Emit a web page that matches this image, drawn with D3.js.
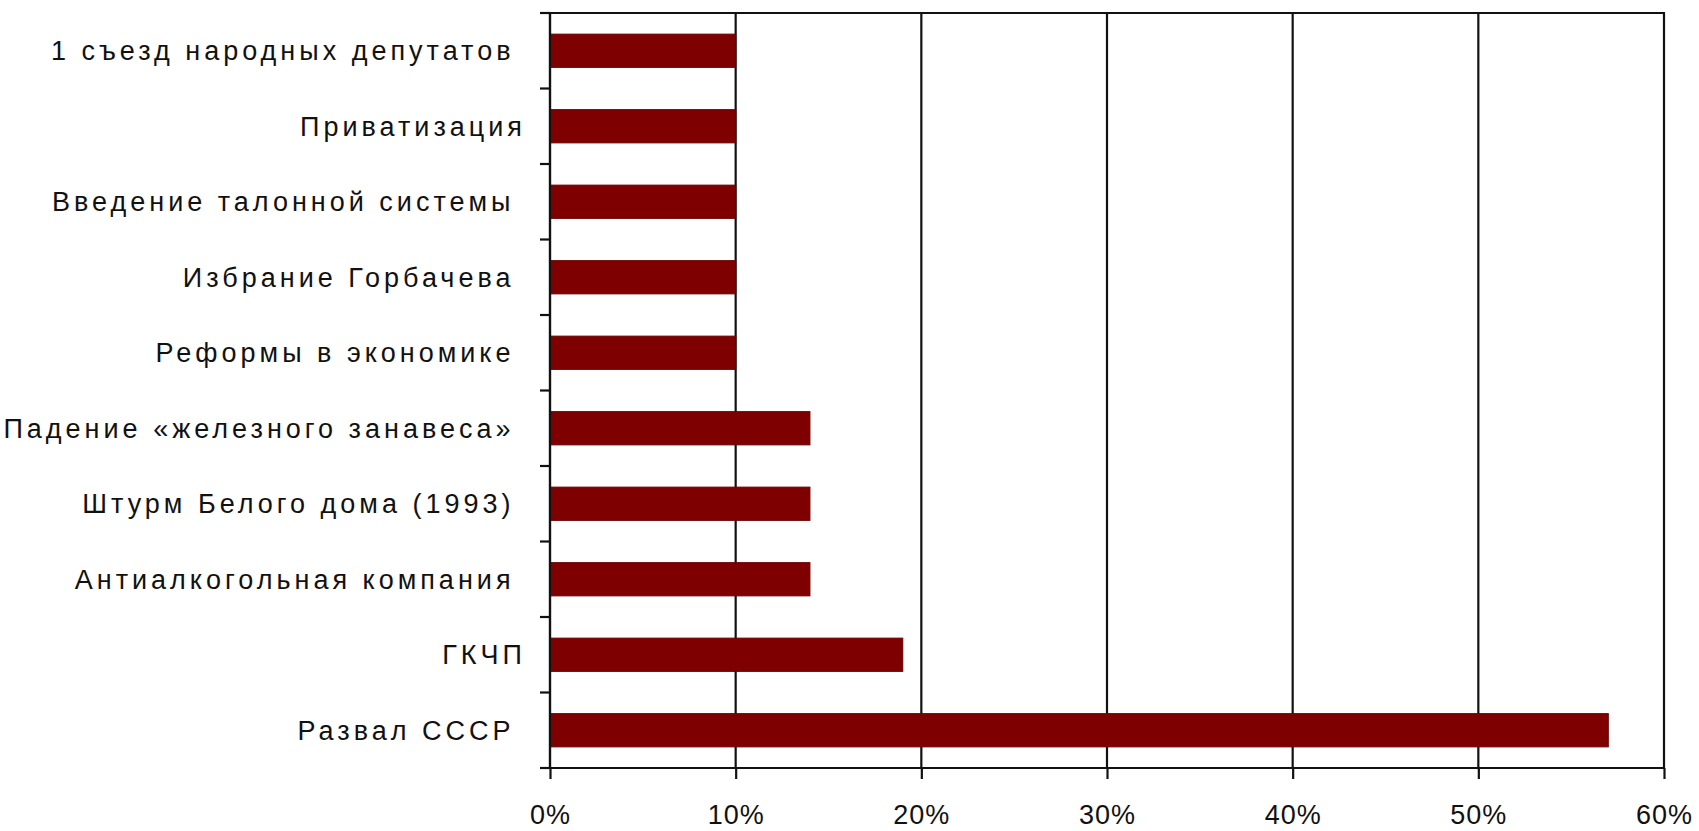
<!DOCTYPE html>
<html>
<head>
<meta charset="utf-8">
<script src="https://cdn.jsdelivr.net/npm/d3@7"></script>
<style>
  html, body { margin: 0; padding: 0; background: #fff; }
  svg { display: block; }
  .lbl { font-family: Arial, "Liberation Sans", sans-serif; font-size: 27px; fill: #111; letter-spacing: 4px; white-space: pre; }
  .tk { font-family: Arial, "Liberation Sans", sans-serif; font-size: 27px; fill: #111; letter-spacing: 1px; }
</style>
</head>
<body>
<svg id="chart" width="1699" height="831"></svg>
<script>
// categories top to bottom (trailing spaces are in the original labels)
var categories = [
  "1 съезд народных депутатов ",
  "Приватизация",
  "Введение талонной системы ",
  "Избрание Горбачева ",
  "Реформы в экономике ",
  "Падение «железного занавеса» ",
  "Штурм Белого дома (1993) ",
  "Антиалкогольная компания ",
  "ГКЧП",
  "Развал СССР "
];
var values = [0.10, 0.10, 0.10, 0.10, 0.10, 0.14, 0.14, 0.14, 0.19, 0.57];
var xTicks = [0, 0.1, 0.2, 0.3, 0.4, 0.5, 0.6];

var width = 1699, height = 831;
var margin = {top: 13, right: 35, bottom: 63, left: 550};

var svg = d3.select('#chart');

var x = d3.scaleLinear()
  .domain([0, 0.6])
  .range([margin.left, width - margin.right]);

var y = d3.scaleBand()
  .domain(categories)
  .range([margin.top, height - margin.bottom])
  .paddingInner(0.56)
  .paddingOuter(0.28);

var yTop = margin.top, yBottom = height - margin.bottom;

//************************ Grid lines *************************/
svg.append('g')
  .selectAll('line')
  .data(xTicks)
  .enter().append('line')
  .attr('x1', d => x(d)).attr('x2', d => x(d))
  .attr('y1', yTop).attr('y2', yBottom)
  .attr('stroke', '#111')
  .attr('stroke-width', 2.2);

// top frame line (sticks out like the tick marks)
svg.append('line')
  .attr('x1', x(0) - 10).attr('x2', x(0.6) + 1)
  .attr('y1', yTop).attr('y2', yTop)
  .attr('stroke', '#111').attr('stroke-width', 2.2);

//************************ Bars *************************/
svg.append('g')
  .selectAll('rect')
  .data(categories)
  .enter().append('rect')
  .attr('x', x(0))
  .attr('y', d => y(d))
  .attr('height', y.bandwidth())
  .attr('width', (d, i) => x(values[i]) - x(0))
  .attr('fill', '#7f0000')
  .attr('stroke', '#6a0000')
  .attr('stroke-width', 1);

//************************ Left axis *************************/
var gap = (y.step() - y.bandwidth()) / 2;
var bounds = categories.map(d => y(d) - gap);
bounds.push(yBottom);

svg.append('g')
  .selectAll('line')
  .data(bounds)
  .enter().append('line')
  .attr('x1', x(0) - 10).attr('x2', x(0))
  .attr('y1', d => d).attr('y2', d => d)
  .attr('stroke', '#111').attr('stroke-width', 2.2);

svg.append('line')
  .attr('x1', x(0)).attr('x2', x(0))
  .attr('y1', yTop).attr('y2', yBottom)
  .attr('stroke', '#111').attr('stroke-width', 2.2);

svg.append('g')
  .selectAll('text')
  .data(categories)
  .enter().append('text')
  .attr('class', 'lbl')
  .attr('x', x(0) - 24)
  .attr('y', d => y(d) + y.bandwidth() / 2)
  .attr('dy', '0.36em')
  .attr('text-anchor', 'end')
  .text(d => d);

//************************ Bottom axis *************************/
var xAxis = d3.axisBottom(x)
  .tickValues(xTicks)
  .tickSize(11)
  .tickPadding(26)
  .tickFormat(d3.format('.0%'));

var gx = svg.append('g')
  .attr('transform', 'translate(0,' + yBottom + ')')
  .call(xAxis);

gx.select('.domain').remove();
gx.selectAll('.tick line').attr('stroke', '#111').attr('stroke-width', 2.2);
gx.selectAll('.tick text')
  .attr('class', 'tk')
  .attr('fill', '#111');
gx.attr('font-size', null).attr('font-family', null);

svg.append('line')
  .attr('x1', x(0) - 10).attr('x2', x(0.6) + 1)
  .attr('y1', yBottom).attr('y2', yBottom)
  .attr('stroke', '#111').attr('stroke-width', 2.2);
</script>
</body>
</html>
